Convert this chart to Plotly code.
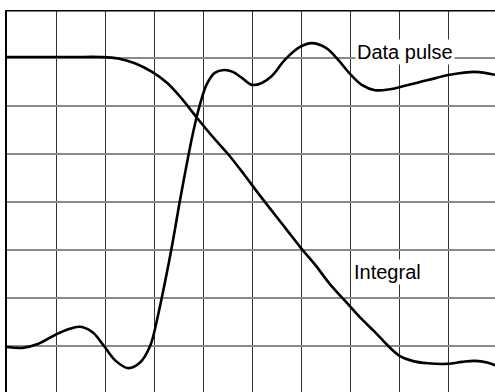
import plotly.graph_objects as go

# Time in horizontal divisions, amplitude in vertical divisions
pulse_t = [0, 0.31, 0.63, 0.98, 1.25, 1.49, 1.74, 1.98, 2.22, 2.47, 2.71, 2.92, 3.08, 3.22,
           3.37, 3.51, 3.65, 3.8, 3.94, 4.08, 4.24, 4.43, 4.61, 4.8, 5.0, 5.2, 5.41, 5.67,
           5.98, 6.22, 6.51, 6.76, 7.0, 7.24, 7.51, 7.82, 8.12, 8.59, 9.04, 9.55, 9.96]
pulse_v = [0.98, 0.96, 1.04, 1.23, 1.35, 1.4, 1.29, 1.0, 0.69, 0.54, 0.65, 1.0, 1.63, 2.31,
           3.1, 3.92, 4.69, 5.46, 6.04, 6.46, 6.69, 6.75, 6.71, 6.58, 6.44, 6.48, 6.63, 6.96,
           7.23, 7.31, 7.21, 6.96, 6.67, 6.44, 6.33, 6.35, 6.42, 6.54, 6.65, 6.71, 6.65]

integral_t = [0, 0.67, 1.39, 1.9, 2.27, 2.61, 2.96, 3.27, 3.57, 3.88, 4.18, 4.51, 4.82, 5.12,
              5.41, 5.71, 6.0, 6.29, 6.59, 6.9, 7.2, 7.51, 7.78, 8.02, 8.27, 8.59, 9.0, 9.29,
              9.55, 9.82, 9.96]
integral_v = [7.02, 7.02, 7.02, 7.02, 6.99, 6.89, 6.71, 6.48, 6.15, 5.75, 5.38, 5.0, 4.6, 4.19,
              3.81, 3.42, 3.04, 2.69, 2.29, 1.94, 1.6, 1.29, 1.0, 0.79, 0.69, 0.64, 0.63, 0.67,
              0.69, 0.65, 0.6]

labels = ["Data pulse", "Integral"]
label_t = [8.12, 7.76]
label_v = [7.13, 2.54]

fig = go.Figure()
fig.add_trace(go.Scatter(x=pulse_t, y=pulse_v, mode="lines",
                         line=dict(color="black", width=2.6, shape="spline", smoothing=1.0),
                         hoverinfo="skip", showlegend=False))
fig.add_trace(go.Scatter(x=integral_t, y=integral_v, mode="lines",
                         line=dict(color="black", width=2.6, shape="spline", smoothing=1.0),
                         hoverinfo="skip", showlegend=False))

for txt, tx, ty in zip(labels, label_t, label_v):
    fig.add_annotation(x=tx, y=ty, text=txt, showarrow=False,
                       font=dict(family="Liberation Sans, Arial", size=20, color="black"),
                       bgcolor="white", borderpad=1, xanchor="center", yanchor="middle")

# top border
fig.add_shape(type="line", xref="paper", yref="y", x0=0, x1=1, y0=8, y1=8,
              line=dict(color="black", width=3))

fig.update_layout(
    width=495, height=392,
    margin=dict(l=7, r=0, t=10, b=0, autoexpand=False),
    paper_bgcolor="white", plot_bgcolor="white",
    xaxis=dict(range=[0, 488 / 49], dtick=1, tick0=0, showgrid=True, gridcolor="#303030",
               gridwidth=1, zeroline=False, showticklabels=False, ticks="", showline=False,
               fixedrange=True),
    yaxis=dict(range=[8 - 382 / 48, 8], dtick=1, tick0=0, showgrid=True, gridcolor="#8a8a8a",
               gridwidth=2, zeroline=False, showticklabels=False, ticks="", showline=True,
               linecolor="black", linewidth=2, fixedrange=True),
)

fig.write_html("out.html", config={"displayModeBar": False},
               post_script="document.body.style.margin='0px';document.body.style.overflow='hidden';")
